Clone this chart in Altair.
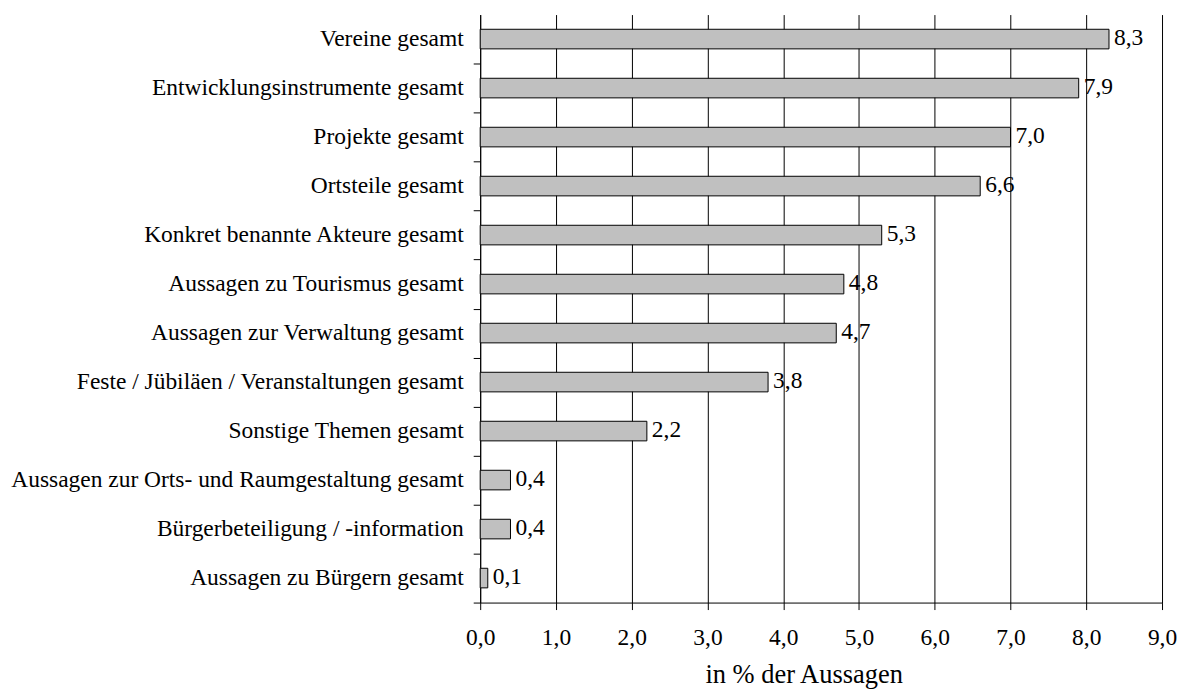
import altair as alt
import pandas as pd

categories = [
    "Vereine gesamt",
    "Entwicklungsinstrumente gesamt",
    "Projekte gesamt",
    "Ortsteile gesamt",
    "Konkret benannte Akteure gesamt",
    "Aussagen zu Tourismus gesamt",
    "Aussagen zur Verwaltung gesamt",
    "Feste / Jübiläen / Veranstaltungen gesamt",
    "Sonstige Themen gesamt",
    "Aussagen zur Orts- und Raumgestaltung gesamt",
    "Bürgerbeteiligung / -information",
    "Aussagen zu Bürgern gesamt",
]
values = [8.3, 7.9, 7.0, 6.6, 5.3, 4.8, 4.7, 3.8, 2.2, 0.4, 0.4, 0.1]
x_ticks = [0, 1, 2, 3, 4, 5, 6, 7, 8, 9]

df = pd.DataFrame({"cat": categories, "value": values})
df["label"] = [f"{v:.1f}".replace(".", ",") for v in values]

FONT = "Liberation Serif"
FS = 23.5
H = 589
STEP = H / 12
GAP_HALF = 0.6 * STEP / 2

x_enc = alt.X(
    "value:Q",
    scale=alt.Scale(domain=[0, 9], nice=False, zero=True),
    axis=alt.Axis(
        values=x_ticks,
        labelExpr="replace(format(datum.value, '.1f'), '.', ',')",
        labelFlush=False,
        labelOverlap=False,
        title="in % der Aussagen",
        grid=True,
        gridColor="black",
        gridWidth=1,
        gridOpacity=1,
        domainColor="black",
        tickColor="black",
        tickSize=7,
        labelBaseline="alphabetic",
        labelPadding=35,
        labelFont=FONT,
        labelFontSize=FS,
        labelColor="black",
        titleFont=FONT,
        titleFontSize=26.5,
        titleFontWeight="normal",
        titleColor="black",
        titleBaseline="alphabetic",
        titleAlign="center",
        titleAnchor="start",
        titleX=324,
        titleY=80,
    ),
)
y_enc = alt.Y(
    "cat:N",
    sort=categories,
    scale=alt.Scale(paddingInner=0.6, paddingOuter=0.3),
    axis=alt.Axis(
        title=None,
        bandPosition=1,
        tickOffset=GAP_HALF,
        labelOffset=-GAP_HALF - 1,
        tickExtra=False,
        domainColor="black",
        tickColor="black",
        tickSize=7,
        labelPadding=10,
        labelFont=FONT,
        labelFontSize=FS,
        labelColor="black",
        labelLimit=600,
    ),
)

bars = alt.Chart(df).mark_bar(fill="#c0c0c0", stroke="black", strokeWidth=1).encode(
    x=x_enc, y=y_enc
)
text = alt.Chart(df).mark_text(
    align="left", baseline="middle", dx=5, dy=-1, font=FONT, fontSize=FS, color="black"
).encode(x="value:Q", y=alt.Y("cat:N", sort=categories), text="label:N")

chart = (
    alt.layer(bars, text)
    .properties(
        width=683,
        height=H,
        autosize=alt.AutoSizeParams(type="none"),
        padding={"left": 473, "top": 6, "right": 15, "bottom": 86},
    )
    .configure_view(strokeWidth=0)
)

chart.save("out.html", embed_options={"renderer": "svg", "actions": False})
